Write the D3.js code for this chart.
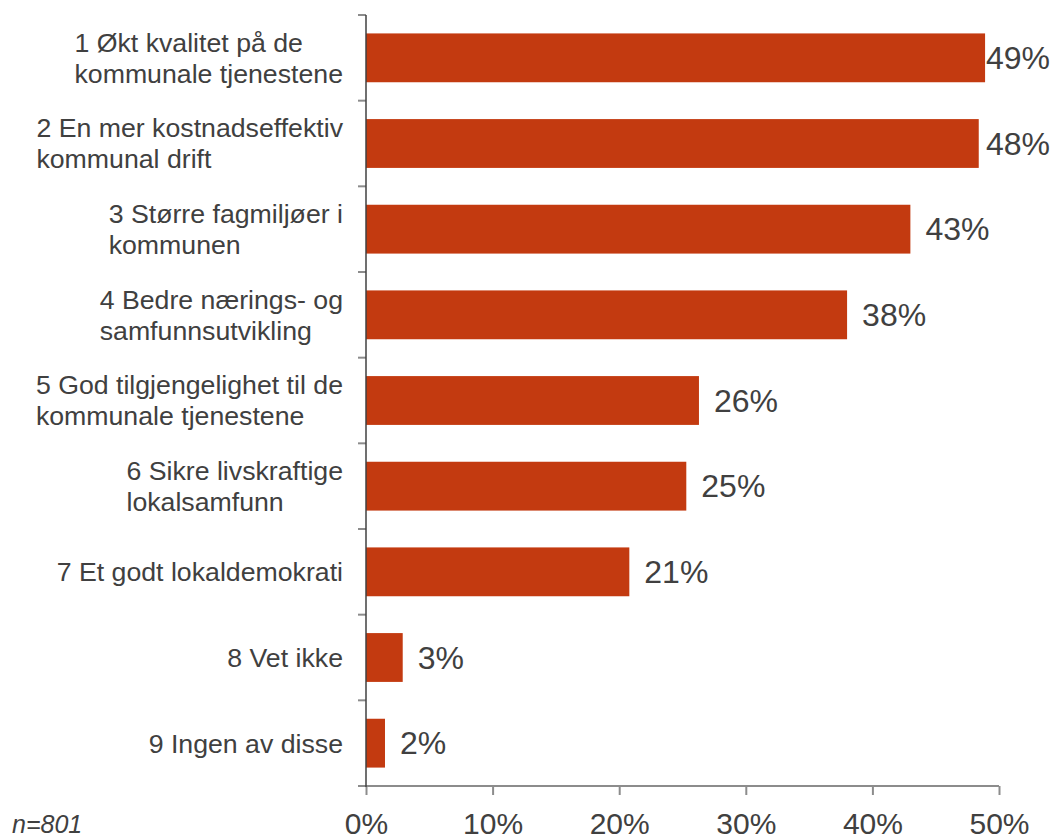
<!DOCTYPE html>
<html>
<head>
<meta charset="utf-8">
<script src="https://cdn.jsdelivr.net/npm/d3@7"></script>
<style>
  body { margin: 0; background: #fff; }
  text { font-family: "Liberation Sans", Arial, sans-serif; fill: #404040; }
</style>
</head>
<body>
<script>
// chart data
var categories = [
    ["1 Økt kvalitet på de", "kommunale tjenestene"],
    ["2 En mer kostnadseffektiv", "kommunal drift"],
    ["3 Større fagmiljøer i", "kommunen"],
    ["4 Bedre nærings- og", "samfunnsutvikling"],
    ["5 God tilgjengelighet til de", "kommunale tjenestene"],
    ["6 Sikre livskraftige", "lokalsamfunn"],
    ["7 Et godt lokaldemokrati"],
    ["8 Vet ikke"],
    ["9 Ingen av disse"]
];
var values = [48.9, 48.4, 43.0, 38.0, 26.3, 25.3, 20.8, 2.9, 1.5];
var valueLabels = ["49%", "48%", "43%", "38%", "26%", "25%", "21%", "3%", "2%"];
var xTicks = [0, 10, 20, 30, 40, 50];
var note = "n=801";

var w = 1056, h = 838;
var plotLeft = 366, plotRight = 999, plotTop = 15, plotBottom = 786;

var svg = d3.select("body").append("svg")
    .attr("width", w)
    .attr("height", h);

var xScale = d3.scaleLinear().domain([0, 50]).range([plotLeft, plotRight]);
var yScale = d3.scaleBand()
    .domain(d3.range(categories.length))
    .range([plotTop, plotBottom])
    .paddingInner(0.43)
    .paddingOuter(0.215);
var step = yScale.step();

// bars
svg.selectAll("rect.bar")
    .data(values)
    .enter()
    .append("rect")
    .attr("class", "bar")
    .attr("x", xScale(0))
    .attr("y", function (d, i) { return yScale(i); })
    .attr("width", function (d) { return xScale(d) - xScale(0); })
    .attr("height", yScale.bandwidth())
    .attr("fill", "#C33A10");

// bottom axis
var xAxis = d3.axisBottom(xScale)
    .tickValues(xTicks)
    .tickSize(9)
    .tickSizeOuter(0)
    .tickPadding(18)
    .tickFormat(function (d) { return d + "%"; });

var gx = svg.append("g")
    .attr("transform", "translate(0," + plotBottom + ")")
    .call(xAxis);
gx.select(".domain").remove();
gx.selectAll(".tick line").attr("stroke", "#8c8c8c").attr("stroke-width", 2);
gx.selectAll(".tick text")
    .attr("font-size", 30)
    .attr("fill", "#404040")
    .attr("font-family", "Liberation Sans, Arial, sans-serif");
gx.append("line")
    .attr("x1", plotLeft - 8).attr("x2", plotRight)
    .attr("y1", 0).attr("y2", 0)
    .attr("stroke", "#8c8c8c").attr("stroke-width", 2);

// left axis: tick marks at category boundaries
var bounds = d3.range(categories.length + 1).map(function (i) { return plotTop + i * step; });
svg.selectAll("line.ytick")
    .data(bounds)
    .enter()
    .append("line")
    .attr("class", "ytick")
    .attr("x1", plotLeft - 8).attr("x2", plotLeft)
    .attr("y1", function (d) { return d; })
    .attr("y2", function (d) { return d; })
    .attr("stroke", "#8c8c8c")
    .attr("stroke-width", 2);
svg.append("line")
    .attr("x1", plotLeft).attr("x2", plotLeft)
    .attr("y1", plotTop).attr("y2", plotBottom + 1)
    .attr("stroke", "#404040")
    .attr("stroke-width", 1.5);

// category labels: block of left-aligned lines, right edge at 343
var labelRight = 343, fs = 26.7, lineH = 31;
var groups = svg.selectAll("g.cat")
    .data(categories)
    .enter()
    .append("g")
    .attr("class", "cat");

groups.each(function (lines, i) {
    var g = d3.select(this);
    var cy = yScale(i) + yScale.bandwidth() / 2;
    var texts = g.selectAll("text")
        .data(lines)
        .enter()
        .append("text")
        .attr("font-size", fs)
        .attr("dy", "0.35em")
        .attr("y", function (d, j) { return cy + (j - (lines.length - 1) / 2) * lineH; })
        .text(function (d) { return d; });
    var maxW = 0;
    texts.each(function () { maxW = Math.max(maxW, this.getComputedTextLength()); });
    texts.attr("x", labelRight - maxW);
});

// value labels
svg.selectAll("text.val")
    .data(values)
    .enter()
    .append("text")
    .attr("class", "val")
    .attr("font-size", 32)
    .attr("dy", "0.35em")
    .attr("y", function (d, i) { return yScale(i) + yScale.bandwidth() / 2; })
    .text(function (d, i) { return valueLabels[i]; })
    .attr("x", function (d) {
        var x = xScale(d) + 15;
        var tw = this.getComputedTextLength();
        return Math.min(x, w - 6 - tw);
    });

// sample size note
svg.append("text")
    .attr("x", 12)
    .attr("y", 833)
    .attr("font-size", 25)
    .attr("font-style", "italic")
    .text(note);
</script>
</body>
</html>
